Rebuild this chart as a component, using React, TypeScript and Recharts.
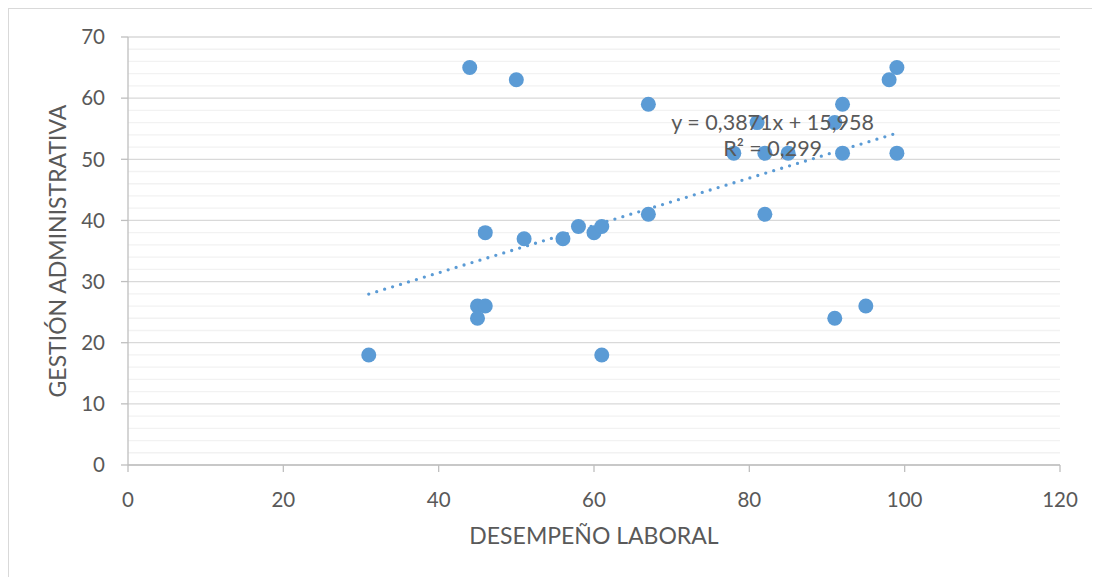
import React from "react";
import {
  ScatterChart,
  Scatter,
  XAxis,
  YAxis,
  CartesianGrid,
  ReferenceLine,
  ReferenceDot,
  Label,
} from "recharts";

// DESEMPEÑO LABORAL (x) vs GESTIÓN ADMINISTRATIVA (y)
const desempeno = [31, 44, 50, 45, 46, 45, 46, 51, 56, 58, 60, 61, 61, 67, 67, 78, 81, 82, 82, 85, 91, 92, 92, 91, 95, 98, 99, 99];
const gestion = [18, 65, 63, 26, 26, 24, 38, 37, 37, 39, 38, 39, 18, 59, 41, 51, 56, 51, 41, 51, 56, 59, 51, 24, 26, 63, 65, 51];

const xTicks = [0, 20, 40, 60, 80, 100, 120];
const yTicks = [0, 10, 20, 30, 40, 50, 60, 70];
const yMinorTicks = [2, 4, 6, 8, 12, 14, 16, 18, 22, 24, 26, 28, 32, 34, 36, 38, 42, 44, 46, 48, 52, 54, 56, 58, 62, 64, 66, 68];

// Linear trendline shown on the chart
const trendSlope = 0.3871;
const trendIntercept = 15.958;
const equationText = "y = 0,3871x + 15,958";
const r2Text = "R² = 0,299";

const points = desempeno.map((x, i) => ({ x, y: gestion[i] }));
const xMin = Math.min(...desempeno);
const xMax = Math.max(...desempeno);
const trend = (x: number) => trendSlope * x + trendIntercept;

const FONT = "Lato, 'Open Sans', sans-serif";
const TEXT = "#595959";
const BLUE = "#5B9BD5";

const Dot = (props: any) => {
  const { cx, cy } = props;
  if (cx == null || cy == null) return null;
  return <circle cx={cx} cy={cy} r={7.5} fill={BLUE} />;
};

export default function App() {
  return (
    <div
      style={{
        width: 1092,
        height: 569,
        borderTop: "1px solid #D9D9D9",
        borderLeft: "1px solid #D9D9D9",
        boxSizing: "border-box",
        background: "#fff",
        fontFamily: FONT,
      }}
    >
      <ScatterChart
        width={1091}
        height={568}
        margin={{ top: 28, right: 40, left: 0, bottom: 0 }}
      >
        {yMinorTicks.map((t) => (
          <ReferenceLine key={t} y={t} stroke="#F2F2F2" strokeWidth={1.3} />
        ))}
        <CartesianGrid vertical={false} stroke="#D9D9D9" strokeWidth={1.3} />
        <XAxis
          type="number"
          dataKey="x"
          domain={[0, 120]}
          ticks={xTicks}
          interval={0}
          height={112}
          tickSize={7}
          tickMargin={20}
          stroke="#BFBFBF"
          tick={{ fill: TEXT, fontSize: 20.5, fontFamily: FONT }}
          axisLine={{ stroke: "#BFBFBF", strokeWidth: 1.3 }}
          tickLine={{ stroke: "#BFBFBF", strokeWidth: 1.3 }}
        >
          <Label
            content={(props: any) => {
              const vb = props.viewBox || {};
              return (
                <text
                  x={vb.x + vb.width / 2}
                  y={vb.y + 70}
                  textAnchor="middle"
                  dominantBaseline="central"
                  fill={TEXT}
                  fontSize={23}
                  fontFamily={FONT}
                >
                  DESEMPEÑO LABORAL
                </text>
              );
            }}
          />
        </XAxis>
        <YAxis
          type="number"
          dataKey="y"
          domain={[0, 70]}
          ticks={yTicks}
          interval={0}
          width={119}
          tickSize={7}
          tickMargin={16}
          stroke="#BFBFBF"
          tick={{ fill: TEXT, fontSize: 20.5, fontFamily: FONT }}
          axisLine={{ stroke: "#BFBFBF", strokeWidth: 1.3 }}
          tickLine={{ stroke: "#BFBFBF", strokeWidth: 1.3 }}
        >
          <Label
            content={(props: any) => {
              const vb = props.viewBox || {};
              const cx = vb.x + 48;
              const cy = vb.y + vb.height / 2;
              return (
                <text
                  x={cx}
                  y={cy}
                  transform={`rotate(-90 ${cx} ${cy})`}
                  textAnchor="middle"
                  dominantBaseline="central"
                  fill={TEXT}
                  fontSize={23}
                  fontFamily={FONT}
                >
                  GESTIÓN ADMINISTRATIVA
                </text>
              );
            }}
          />
        </YAxis>
        <Scatter
          data={points}
          fill={BLUE}
          shape={Dot}
          isAnimationActive={false}
        />
        <ReferenceLine
          segment={[
            { x: xMin, y: trend(xMin) },
            { x: xMax, y: trend(xMax) },
          ]}
          stroke={BLUE}
          strokeWidth={3.3}
          strokeDasharray="0 8.3"
          strokeLinecap="round"
          ifOverflow="visible"
        />
        <ReferenceDot
          x={83}
          y={56}
          r={0}
          fill="none"
          stroke="none"
          ifOverflow="visible"
          label={{
            value: equationText,
            position: "center",
            fill: TEXT,
            fontSize: 21.5,
            fontFamily: FONT,
          }}
        />
        <ReferenceDot
          x={83}
          y={51.85}
          r={0}
          fill="none"
          stroke="none"
          ifOverflow="visible"
          label={{
            value: r2Text,
            position: "center",
            fill: TEXT,
            fontSize: 21.5,
            fontFamily: FONT,
          }}
        />
      </ScatterChart>
    </div>
  );
}
